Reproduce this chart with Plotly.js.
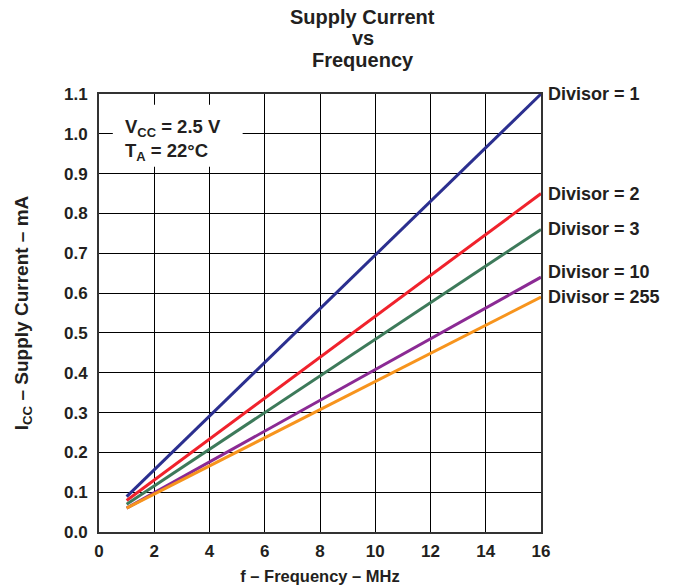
<!DOCTYPE html>
<html><head><meta charset="utf-8">
<script src="https://cdn.plot.ly/plotly-3.0.1.min.js"></script>
<style>body{margin:0;background:#fff}#c{width:674px;height:588px}</style>
</head><body><div id="c"></div>
<script>
const freq = [1, 16];
const seriesNames = ["Divisor = 1", "Divisor = 2", "Divisor = 3", "Divisor = 10", "Divisor = 255"];
const div1 = [0.089, 1.10];
const div2 = [0.079, 0.85];
const div3 = [0.070, 0.76];
const div10 = [0.060, 0.64];
const div255 = [0.060, 0.59];
const colors = ["#2b2f8f", "#f0222c", "#3d7a5a", "#8b2a94", "#f7941d"];
const xTicks = [0, 2, 4, 6, 8, 10, 12, 14, 16];
const yTicks = [0, 0.1, 0.2, 0.3, 0.4, 0.5, 0.6, 0.7, 0.8, 0.9, 1.0, 1.1];
const titleLines = ["Supply Current", "vs", "Frequency"];

const all = [div1, div2, div3, div10, div255];
const font = {family: "Liberation Sans, Arial, sans-serif", color: "#231f20"};
const f = s => Object.assign({size: s}, font);
const traces = all.map((v, i) => ({
  x: freq, y: v, mode: "lines", name: seriesNames[i],
  line: {color: colors[i], width: 3}, showlegend: false, hoverinfo: "skip"
}));
const labelAnn = all.map((v, i) => ({
  x: 1, xref: "paper", y: v[1] + (i === 3 ? 0.012 : 0), yref: "y",
  text: "<b>" + seriesNames[i] + "</b>", showarrow: false,
  xanchor: "left", xshift: 5, font: f(18)
}));
const titleY = [1.1758, 1.1279, 1.0776];
const titleAnn = titleLines.map((t, i) => ({
  x: 0.597, xref: "paper", y: titleY[i], yref: "paper", xanchor: "center", yanchor: "middle",
  showarrow: false, text: "<b>" + t + "</b>", font: f(20)
}));
const layout = {
  width: 674, height: 588,
  margin: {l: 99, r: 133, t: 94, b: 56},
  paper_bgcolor: "#fff", plot_bgcolor: "#fff",
  font: f(16),
  xaxis: {
    range: [0, 16], tickvals: xTicks, ticktext: xTicks.map(t => "<b>" + t + "</b>"),
    showgrid: true, gridcolor: "#000", gridwidth: 1, zeroline: false,
    showline: true, linecolor: "#333", linewidth: 2, mirror: true, ticks: "",
    ticklabelstandoff: 3,
    tickfont: f(17),
    title: {text: "<b>f – Frequency – MHz</b>", font: f(16.5), standoff: 10}
  },
  yaxis: {
    range: [0, 1.1], tickvals: yTicks, ticktext: yTicks.map(t => "<b>" + t.toFixed(1) + "</b>"),
    showgrid: true, gridcolor: "#000", gridwidth: 1, zeroline: false,
    showline: true, linecolor: "#333", linewidth: 2, mirror: true, ticks: "",
    ticklabelstandoff: 6,
    tickfont: f(17),
    title: {text: "<b>I<sub>CC</sub> – Supply Current – mA</b>", font: f(19), standoff: 30}
  },
  shapes: [{type: "rect", xref: "x", yref: "y", x0: 0.5, x1: 5.2, y0: 0.917, y1: 1.073,
    fillcolor: "#fff", line: {width: 0}, layer: "above"}],
  annotations: labelAnn.concat(titleAnn, [
    {x: 0.054, xref: "paper", y: 0.985, yref: "y", xanchor: "left", yanchor: "middle", showarrow: false,
     align: "left", text: "<b>V<sub>CC</sub> = 2.5 V<br>T<sub>A</sub> = 22°C</b>",
     font: f(18.5)}
  ])
};
Plotly.newPlot("c", traces, layout, {staticPlot: true});
</script></body></html>
